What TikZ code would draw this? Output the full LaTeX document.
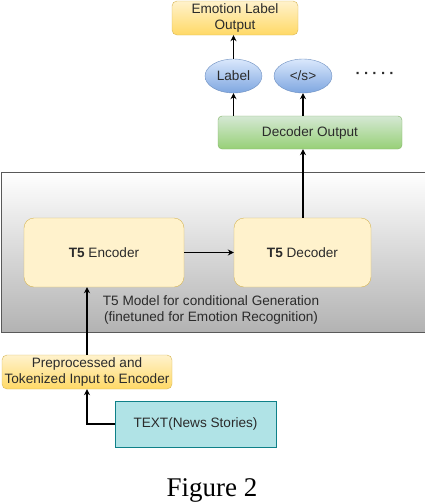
\documentclass[tikz,border=0pt]{standalone}
\usepackage{fontspec}
\setmainfont{Liberation Sans}
\newfontfamily\capfont{Liberation Serif}
\usetikzlibrary{positioning, arrows.meta, shapes.geometric}
\definecolor{yelfill}{HTML}{FFF2CC}
\definecolor{yeldeep}{HTML}{FFD966}
\definecolor{yelline}{HTML}{D6B656}
\definecolor{bluefill}{HTML}{DAE8FC}
\definecolor{bluedeep}{HTML}{7EA6E0}
\definecolor{blueline}{HTML}{6C8EBF}
\definecolor{grnfill}{HTML}{D5E8D4}
\definecolor{grndeep}{HTML}{97D077}
\definecolor{grnline}{HTML}{82B366}
\definecolor{tealfill}{HTML}{B0E3E6}
\definecolor{tealline}{HTML}{0E8088}
\definecolor{txtgray}{HTML}{2B2B2B}
\tikzset{>={Stealth[length=6pt,width=6pt]},
every node/.style={font=\fontsize{13.6}{16}\selectfont, text=txtgray, align=center},
goldbox/.style={draw=yelline, top color=yelfill, bottom color=yeldeep, rounded corners=5pt, inner sep=0pt},
modelbox/.style={draw=yelline, fill=yelfill, rounded corners=10pt, inner sep=0pt},
token/.style={ellipse, draw=blueline, top color=bluefill, bottom color=bluedeep, inner sep=0pt, minimum width=57pt, minimum height=34pt},
outbox/.style={draw=grnline, top color=grnfill, bottom color=grndeep, rounded corners=4pt, inner sep=0pt},
inbox/.style={draw=tealline, fill=tealfill, line width=1pt, inner sep=0pt},
flow/.style={->, line width=1.2pt},
}

\begin{document}
\begin{tikzpicture}[x=1pt, y=-1pt]
    \useasboundingbox (0,0) rectangle (424,504);
    % model container
    \fill[top color=white, bottom color=gray!60] (1,172) rectangle (426,332);
    \draw[gray!130, line width=1pt] (426,172) -- (1,172) -- (1,332) -- (426,332);
    \node (caption) at (211,310) {T5 Model for conditional Generation\\(finetuned for Emotion Recognition)};
    \node[modelbox, minimum width=160pt, minimum height=69pt] (enc) at (104,252.5) {\textbf{T5} Encoder};
    \node[modelbox, minimum width=137pt, minimum height=69pt] (dec) at (302.5,252.5) {\textbf{T5} Decoder};
    % outputs
    \node[outbox, minimum width=184pt, minimum height=33pt] (decout) at (310,132.5) {Decoder Output};
    \node[token] (lbl) at (233.5,76) {Label};
    \node[token, minimum width=58pt] (eos) at (303,76) {</s>};
    \node[font=\bfseries\fontsize{15}{16}\selectfont] (dots) at (375,75) {·\hspace{3.5pt}·\hspace{3.5pt}·\hspace{3.5pt}·\hspace{3.5pt}·};
    \node[goldbox, minimum width=126pt, minimum height=34pt] (emo) at (235,18) {Emotion Label\\Output};
    % inputs
    \node[goldbox, minimum width=170pt, minimum height=34pt] (prep) at (87,372) {Preprocessed and\\Tokenized Input to Encoder};
    \node[inbox, minimum width=161pt, minimum height=46pt] (news) at (195.5,424) {TEXT(News Stories)};
    \node[font=\capfont\fontsize{27}{30}\selectfont, text=black] (fig) at (212,490) {Figure 2};

    \draw[flow] (news.west) -| (prep.south);
    \draw[flow] (prep.north) -- (enc.south -| prep.north);
    \draw[->, line width=1pt] (enc) -- (dec);
    \draw[flow, line width=1.6pt] (dec.north -| eos) -- (decout.south -| eos);
    \draw[flow] (decout.north -| lbl) -- (lbl.south);
    \draw[flow, line width=1.6pt] (decout.north -| eos) -- (eos.south);
    \draw[flow] (lbl.north) -- (emo.south -| lbl.north);
\end{tikzpicture}
\end{document}
